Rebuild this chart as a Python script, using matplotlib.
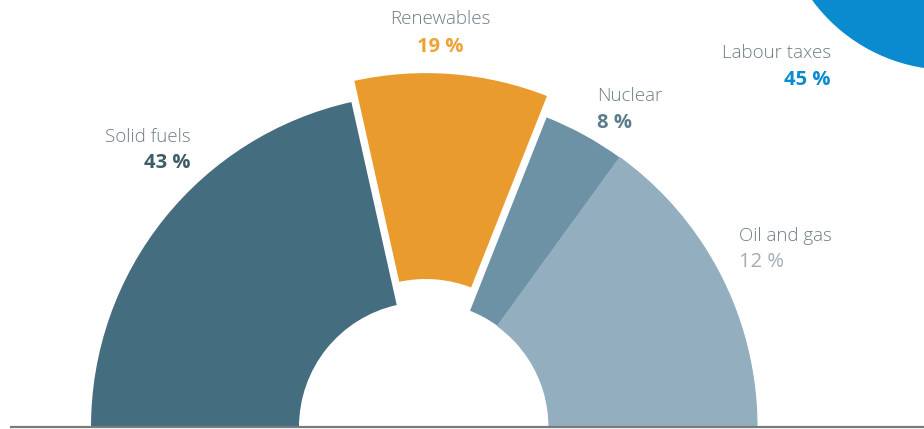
import matplotlib.pyplot as plt
from matplotlib.patches import Circle

# energy mix shares (%), drawn as a half donut
sources = ["Solid fuels", "Renewables", "Nuclear", "Oil and gas"]
shares = [43, 19, 8, 12]
other_share = 100 - sum(shares)   # unlabelled rest, same colour as oil and gas
labour_share = 45

slice_colors = ["#456d80", "#e99b2e", "#6d92a5", "#93afbf"]
value_colors = ["#3f5c69", "#eea232", "#5d7d8d", "#a3adb3"]
value_weights = ["bold", "bold", "bold", "normal"]
name_color = "#6e7c84"
blue = "#0a8bd0"

plt.rcParams["font.family"] = ["Open Sans", "DejaVu Sans"]

fig = plt.figure(figsize=(9.24, 4.29), dpi=100)
ax = fig.add_axes([0, 0, 1, 1])

cx, cy = 424, 2
r_out, r_in = 333, 125

vals = [s / 200 for s in shares + [other_share]]
cols = slice_colors + [slice_colors[-1]]
explode = [0, 22, 0, 0, 0]
wedges, _ = ax.pie(vals, colors=cols, explode=explode, startangle=180,
                   counterclock=False, normalize=False, center=(cx, cy),
                   radius=r_out, wedgeprops=dict(width=r_out - r_in, linewidth=0))
wedges[1].set_edgecolor("white")
wedges[1].set_linewidth(1.5)
# hide the seam between oil and gas and the rest
for w in wedges[3:]:
    w.set_edgecolor(slice_colors[-1])
    w.set_linewidth(0.8)

# baseline
ax.plot([10, 924], [2, 2], color="#7a7a7a", lw=1.6, solid_capstyle="butt")

# partial blue circle in the corner
ax.add_patch(Circle((950, 429 + 101), 171, color=blue, lw=0))

# labels: (x, y_name, y_value, ha)
label_pos = [(191, 137, 163, "right"),
             (440, 19, 47, "center"),
             (597, 96, 123, "left"),
             (739, 236, 262, "left")]
fs = 13.5
fs_val = 14.5
for name, val, (x, yn, yv, ha), vc, vw in zip(sources, shares, label_pos,
                                             value_colors, value_weights):
    ax.text(x, 429 - yn, name, ha=ha, va="center", fontsize=fs,
            color=name_color, fontweight="light")
    ax.text(x, 429 - yv, f"{val} %", ha=ha, va="center", fontsize=fs_val,
            color=vc, fontweight=vw)

ax.text(831, 429 - 53, "Labour taxes", ha="right", va="center", fontsize=fs,
        color=name_color, fontweight="light")
ax.text(831, 429 - 80, f"{labour_share} %", ha="right", va="center",
        fontsize=fs_val, color=blue, fontweight="bold")

ax.set_xlim(0, 924)
ax.set_ylim(0, 429)
ax.set_aspect("equal")
ax.axis("off")

fig.savefig("out.png", dpi=100)
